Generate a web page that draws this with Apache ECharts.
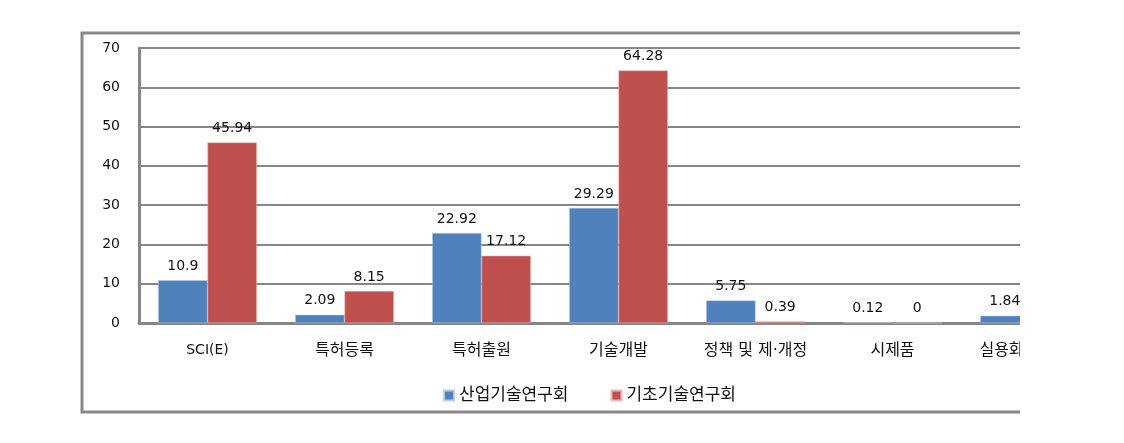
<!DOCTYPE html>
<html><head><meta charset="utf-8">
<script src="https://cdn.jsdelivr.net/npm/echarts@6/dist/echarts.min.js"></script>
<style>html,body{margin:0;padding:0;background:#fff;}
#wrap{width:1020px;height:443px;overflow:hidden;}
#c{width:1124px;height:443px;}</style>
</head><body><div id="wrap"><div id="c"></div></div>
<script>
const categories = ['SCI(E)', '특허등록', '특허출원', '기술개발', '정책 및 제·개정', '시제품', '실용화'];
const seriesNames = ['산업기술연구회', '기초기술연구회'];
const industry = [10.9, 2.09, 22.92, 29.29, 5.75, 0.12, 1.84];
const basic = [45.94, 8.15, 17.12, 64.28, 0.39, 0, null];
const yTicks = [0, 10, 20, 30, 40, 50, 60, 70];

const font = "'DejaVu Sans', 'Noto Sans CJK KR', sans-serif";
const chart = echarts.init(document.getElementById('c'));
const lbl = {show: true, position: 'top', distance: 7, color: '#111', fontSize: 14, fontFamily: font,
  formatter: p => p.value === null ? '' : String(p.value)};
const lastCat = categories[categories.length - 1];
chart.setOption({
  animation: false,
  graphic: [{type: 'rect', shape: {x: 82, y: 33, width: 1030, height: 379},
    style: {fill: 'none', stroke: '#888', lineWidth: 3}, silent: true}],
  grid: {left: 139, top: 48, width: 959, bottom: 120},
  legend: {left: 438, top: 382, itemWidth: 10, itemHeight: 10, itemGap: 42, icon: 'rect',
    textStyle: {fontSize: 17, fontFamily: font, color: '#111'},
    data: seriesNames},
  xAxis: {type: 'category', data: categories,
    axisLine: {lineStyle: {color: '#868686', width: 3}}, axisTick: {show: false},
    axisLabel: {margin: 20, fontSize: 16, fontFamily: font, color: '#111', interval: 0,
      formatter: v => /^[A-Z]/.test(v) ? '{s|' + v + '}' : (v === lastCat ? '{r|' + v + '}' : v),
      rich: {s: {fontSize: 14, fontFamily: font, color: '#111'},
             r: {fontSize: 16, fontFamily: font, color: '#111', padding: [0, 56, 0, 0]}}}},
  yAxis: {type: 'value', min: yTicks[0], max: yTicks[yTicks.length-1], interval: 10,
    axisLine: {show: true, lineStyle: {color: '#868686', width: 3}},
    axisTick: {show: false},
    splitLine: {lineStyle: {color: '#868686', width: 2}},
    axisLabel: {margin: 19, fontSize: 14, fontFamily: font, color: '#111'}},
  series: [
    {name: seriesNames[0], type: 'bar', data: industry, barGap: '0%', barCategoryGap: '28%',
      itemStyle: {color: '#4F81BD', borderColor: '#B9CDE5', borderWidth: 0.5}, label: lbl},
    {name: seriesNames[1], type: 'bar', data: basic, barGap: '0%', barCategoryGap: '28%',
      itemStyle: {color: '#C0504D', borderColor: '#E6B9B8', borderWidth: 0.5}, label: lbl}
  ]
});
</script></body></html>
